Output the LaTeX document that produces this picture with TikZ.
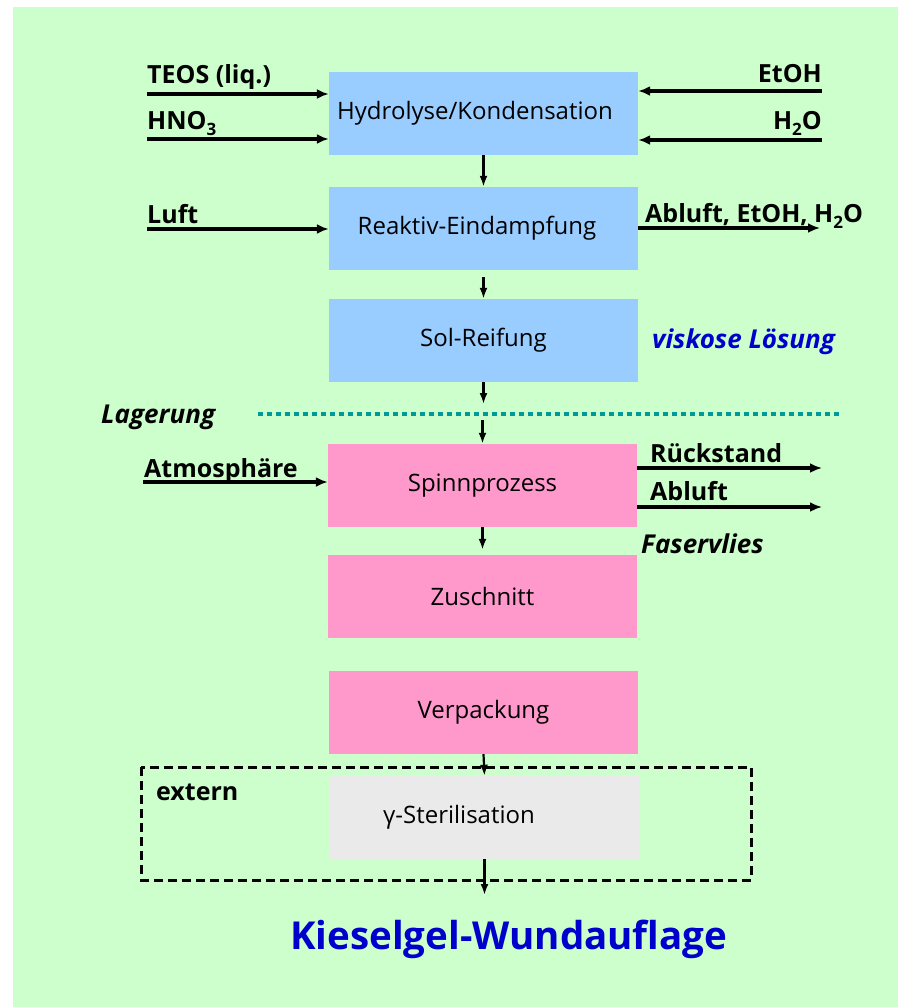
\documentclass[tikz,border=0pt]{standalone}
\usepackage{fontspec}
\setmainfont{Open Sans}
\usetikzlibrary{arrows.meta}
\definecolor{bggreen}{HTML}{CCFFCC}
\definecolor{procblue}{HTML}{99CCFF}
\definecolor{procpink}{HTML}{FF99CC}
\definecolor{procgray}{HTML}{EAEAEA}
\definecolor{titleblue}{HTML}{0000CC}
\definecolor{dotteal}{HTML}{009999}
\newcommand{\lowsub}[1]{\raisebox{-6pt}{\fontsize{17}{20}\selectfont #1}}
\tikzset{
  proc/.style={minimum width=309pt, minimum height=83pt, inner sep=0pt, font=\fontsize{24}{28}\selectfont},
  lbl/.style={inner sep=0pt, font=\bfseries\fontsize{25}{29}\selectfont},
  ilbl/.style={inner sep=0pt, font=\bfseries\itshape\fontsize{26}{30}\selectfont},
  flow/.style={line width=2.2pt, -{Latex[length=11pt,width=8pt]}},
  feed/.style={line width=3.5pt, -{Latex[length=12pt,width=10pt]}},
}
\begin{document}
\begin{tikzpicture}[x=1pt,y=-1pt]
\useasboundingbox (0,0) rectangle (898,1007);
\fill[white] (0,0) rectangle (898,1007);
\fill[bggreen] (13,7) rectangle (898,1007);

% process boxes
\node[proc, fill=procblue] (b1) at (483.5,113.5) {Hydrolyse/Kondensation\kern17pt};
\node[proc, fill=procblue] (b2) at (483.5,228.5) {Reaktiv-Eindampfung\kern13pt};
\node[proc, fill=procblue] (b3) at (483.5,340.5) {Sol-Reifung};
\node[proc, fill=procpink] (b4) at (482.5,485.5) {Spinnprozess};
\node[proc, fill=procpink] (b5) at (482.5,596.5) {Zuschnitt};
\node[proc, fill=procpink] (b6) at (483.5,712.5) {Verpackung};
\node[proc, fill=procgray] (b7) at (484.5,817.5) {γ-Sterilisation\kern51pt};

% external frame
\draw[line width=3pt, dash pattern=on 9pt off 5pt] (141,767) rectangle (751,880);
\node[lbl, anchor=base west] (ext) at (156,800) {extern};

% storage line
\coordinate (dotL) at (258,414);
\coordinate (dotR) at (840,414);
\draw[dotteal, line width=4.5pt, dash pattern=on 5pt off 4pt] (dotL) -- (dotR);
\node[ilbl, anchor=base west] (lag) at (101,423) {Lagerung};

% main flow
\draw[flow] (b1.south) -- (b2.north);
\draw[flow, shorten <=7pt] (b2.south) -- (b3.north);
\draw[flow, shorten >=10pt] (b3.south) -- (b3.south |- dotL);
\draw[flow, shorten <=6pt] (b4.north |- dotL) -- (b4.north);
\draw[flow, shorten >=5pt] (b4.south) -- (b5.north);
\draw[flow] (b6.south) -- (b7.north);
\coordinate (out) at (484.5,895);
\draw[flow] (b7.south) -- (out);

% feeds into Hydrolyse
\coordinate (teos) at (147,94);
\coordinate (hno) at (147,139);
\coordinate (etoh) at (822,91);
\coordinate (water) at (822,140);
\draw[feed] (teos) -- (teos -| b1.west);
\draw[feed] (hno) -- (hno -| b1.west);
\draw[feed] (etoh) -- (etoh -| b1.east);
\draw[feed] (water) -- (water -| b1.east);
\node[lbl, anchor=base west] (teosl) at (147,83) {TEOS (liq.)};
\node[lbl, anchor=base west] (hnol) at (147,129) {HNO\lowsub{3}};
\node[lbl, anchor=base east] (etohl) at (822,82) {EtOH};
\node[lbl, anchor=base east] (waterl) at (822,129) {H\lowsub{2}O};

% Reaktiv-Eindampfung
\coordinate (luft) at (147,229);
\coordinate (abl1) at (820,228);
\draw[feed] (luft) -- (luft -| b2.west);
\draw[feed] (abl1 -| b2.east) -- (abl1);
\node[lbl, anchor=base west] (luftl) at (147,223) {Luft};
\node[lbl, anchor=base west] (abl1l) at (645,222) {Abluft, EtOH, H\lowsub{2}O};

\node[ilbl, text=titleblue, anchor=base west] (visk) at (652,348) {viskose Lösung};

% Spinnprozess
\coordinate (atm) at (143,482);
\coordinate (rueck) at (822,468);
\coordinate (abl2) at (822,507);
\draw[feed] (atm) -- (atm -| b4.west);
\draw[feed] (rueck -| b4.east) -- (rueck);
\draw[feed] (abl2 -| b4.east) -- (abl2);
\node[lbl, anchor=base west] (atml) at (144,477) {Atmosphäre};
\node[lbl, anchor=base west] (rueckl) at (650,462) {Rückstand};
\node[lbl, anchor=base west] (abl2l) at (650,500) {Abluft};
\node[ilbl, anchor=base west] (faser) at (641,553) {Faservlies};

% title
\node[inner sep=0pt, anchor=base west, text=titleblue, font=\bfseries\fontsize{38.5}{44}\selectfont] (title) at (290,949) {Kieselgel-Wundauflage};
\end{tikzpicture}
\end{document}
